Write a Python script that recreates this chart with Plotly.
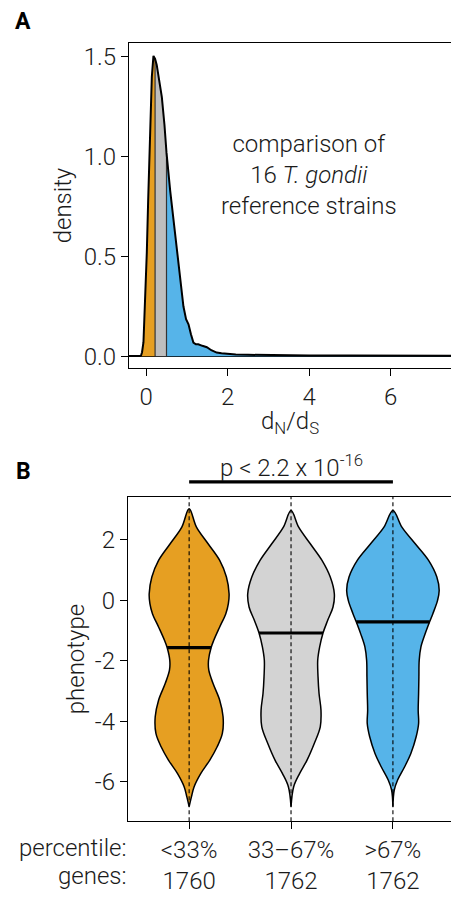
import numpy as np
import plotly.graph_objects as go

# ---------------- Panel A data: density of dN/dS ----------------
dnds_x = [-0.13, -0.10, -0.065, -0.02, 0.017, 0.05, 0.08, 0.11, 0.14, 0.18, 0.22,
          0.26, 0.33, 0.385, 0.45, 0.50, 0.59, 0.67, 0.78, 0.86, 0.915, 0.98, 1.04,
          1.10, 1.16, 1.22, 1.28, 1.38, 1.49, 1.60, 1.73, 1.85, 2.0, 2.2, 2.5, 3.0,
          3.5, 4.0, 5.0, 6.0, 7.0, 7.5]
density_y = [0.0, 0.02, 0.07, 0.28, 0.52, 0.78, 1.02, 1.24, 1.40, 1.505, 1.49,
             1.46, 1.37, 1.30, 1.16, 1.02, 0.83, 0.685, 0.50, 0.35, 0.25, 0.185, 0.16,
             0.11, 0.068, 0.06, 0.06, 0.052, 0.045, 0.03, 0.018, 0.015, 0.012, 0.008, 0.007, 0.005,
             0.004, 0.004, 0.003, 0.003, 0.002, 0.002]
cutoffs = [0.22, 0.50]  # 33rd and 67th percentiles of dN/dS

# ---------------- Panel B data: violins of phenotype ----------------
categories = ["&lt;33%", "33–67%", "&gt;67%"]
gene_counts = ["1760", "1762", "1762"]
medians = [-1.56, -1.08, -0.71]

low_y = [3.03, 2.42, 1.87, 1.32, 0.77, 0.22, -0.11, -0.44, -0.88, -1.32, -1.56, -1.98,
         -2.31, -2.75, -3.30, -3.85, -4.40, -4.84, -5.28, -5.72, -6.16, -6.49, -6.82]
low_w = [0.0, 0.072, 0.186, 0.30, 0.366, 0.392, 0.385, 0.36, 0.30, 0.242, 0.216, 0.19,
         0.193, 0.235, 0.30, 0.333, 0.326, 0.275, 0.203, 0.115, 0.049, 0.023, 0.0]

mid_y = [2.97, 2.42, 1.87, 1.32, 0.77, 0.22, -0.22, -0.66, -1.08, -1.54, -1.98, -2.53,
         -3.08, -3.63, -4.18, -4.73, -5.28, -5.72, -6.16, -6.82]
mid_w = [0.0, 0.075, 0.189, 0.304, 0.385, 0.425, 0.412, 0.36, 0.314, 0.281, 0.262, 0.265,
         0.275, 0.294, 0.287, 0.228, 0.157, 0.085, 0.026, 0.0]

high_y = [2.97, 2.42, 1.87, 1.32, 0.77, 0.33, 0.0, -0.44, -0.71, -1.10, -1.54, -1.98, -2.53,
          -3.08, -3.63, -4.07, -4.51, -5.06, -5.50, -5.94, -6.27, -6.82]
high_w = [0.0, 0.088, 0.219, 0.35, 0.431, 0.454, 0.438, 0.392, 0.36, 0.317, 0.275, 0.258, 0.255,
          0.252, 0.248, 0.252, 0.228, 0.176, 0.115, 0.046, 0.013, 0.0]

y_ticks_b = [-6, -4, -2, 0, 2]
y_ticktext_b = ["-6", "-4", "-2", "0", "2"]

ORANGE = "#E69F22"
GREY_A = "#BEBEBE"
GREY_B = "#D3D3D3"
BLUE = "#56B4E9"
FONT = "Roboto"
FS = 24
TXT = "#1a1a1a"

fig = go.Figure()

# ---- Panel A ----
xa = np.array(dnds_x)
ya = np.array(density_y)
segs = [(xa <= cutoffs[0], ORANGE),
        ((xa >= cutoffs[0]) & (xa <= cutoffs[1]), GREY_A),
        (xa >= cutoffs[1], BLUE)]
for mask, col in segs:
    fig.add_trace(go.Scatter(x=xa[mask], y=ya[mask], mode="lines", fill="tozeroy",
                             fillcolor=col, line=dict(width=0, color=col),
                             hoverinfo="skip", showlegend=False, xaxis="x", yaxis="y"))
for c in cutoffs:
    d = ya[list(xa).index(c)]
    fig.add_trace(go.Scatter(x=[c, c], y=[0, d], mode="lines",
                             line=dict(color="#333333", width=1.2),
                             showlegend=False, hoverinfo="skip", xaxis="x", yaxis="y"))
fig.add_trace(go.Scatter(x=xa, y=ya, mode="lines", line=dict(color="black", width=2),
                         showlegend=False, xaxis="x", yaxis="y"))

# ---- Panel B ----
profiles = [(low_y, low_w, ORANGE), (mid_y, mid_w, GREY_B), (high_y, high_w, BLUE)]
positions = [1, 2, 3]
for pos, (vy, vw, col) in zip(positions, profiles):
    vy = np.array(vy)
    vw = np.array(vw)
    xs = np.concatenate([pos + vw, (pos - vw)[::-1]])
    ys = np.concatenate([vy, vy[::-1]])
    fig.add_trace(go.Scatter(x=xs, y=ys, mode="lines", fill="toself", fillcolor=col,
                             line=dict(color="black", width=1.5, shape="spline", smoothing=1.0),
                             showlegend=False, hoverinfo="skip", xaxis="x2", yaxis="y2"))

for pos in positions:
    fig.add_shape(type="line", xref="x2", yref="y2 domain", x0=pos, x1=pos, y0=0, y1=1,
                  line=dict(color="black", width=1.1, dash="4px,3px"), layer="above")

for pos, (vy, vw, col), m in zip(positions, profiles, medians):
    hw = np.interp(m, np.array(vy)[::-1], np.array(vw)[::-1])
    fig.add_trace(go.Scatter(x=[pos - hw, pos + hw], y=[m, m], mode="lines",
                             line=dict(color="black", width=3.2),
                             showlegend=False, hoverinfo="skip", xaxis="x2", yaxis="y2"))

W, H = 451, 897

# significance bar
fig.add_shape(type="line", xref="x2", yref="paper", x0=positions[0], x1=positions[-1],
              y0=1 - 483 / H, y1=1 - 483 / H, line=dict(color="black", width=3.2))

axis_common = dict(showline=True, linecolor="black", linewidth=1.3, ticks="outside",
                   ticklen=7, tickwidth=1.3, tickcolor="black", showgrid=False,
                   zeroline=False, tickfont=dict(size=FS, color=TXT))

fig.update_layout(
    width=W, height=H, margin=dict(l=0, r=0, t=0, b=0),
    paper_bgcolor="white", plot_bgcolor="white",
    font=dict(family=FONT, size=FS, color=TXT, weight=300),
    xaxis=dict(domain=[129 / W, 1.0], range=[-0.42, 7.48], anchor="y",
               tickvals=[0, 2, 4, 6], mirror=True, **axis_common),
    yaxis=dict(domain=[1 - 369 / H, 1 - 43 / H], range=[-0.06, 1.57], anchor="x",
               tickvals=[0, 0.5, 1.0, 1.5], tickformat=".1f",
               title=dict(text="density", standoff=5, font=dict(size=FS)),
               **{**axis_common, "zeroline": True, "zerolinecolor": "black",
                  "zerolinewidth": 1.5}),
    xaxis2=dict(domain=[128 / W, 1.0], range=[0.4, 3.57], anchor="y2",
                tickvals=positions,
                ticktext=[f"{c}<br>{g}" for c, g in zip(categories, gene_counts)],
                mirror=True, **axis_common),
    yaxis2=dict(domain=[1 - 823 / H, 1 - 498 / H], range=[-7.3, 3.42], anchor="x2",
                tickvals=y_ticks_b, ticktext=y_ticktext_b,
                title=dict(text="phenotype", standoff=3, font=dict(size=FS)),
                **axis_common),
)

def note(text, x, y, xref="paper", yref="paper", xanchor="center", size=FS,
         color=TXT, weight=300, align="center"):
    fig.add_annotation(x=x, y=y, xref=xref, yref=yref, text=text, showarrow=False,
                       xanchor=xanchor, yanchor="middle", align=align,
                       font=dict(size=size, color=color, weight=weight))

note("comparison of<br>16 <i>T. gondii</i><br>reference strains", 4, 0.91,
     xref="x", yref="y")
note("d<sub>N</sub>/d<sub>S</sub>", 0.5 * (129 + W) / W, 1 - 423 / H)
note("<b>A</b>", 23 / W, 1 - 22 / H, size=23, color="black", weight=700)
note("<b>B</b>", 23 / W, 1 - 473 / H, size=23, color="black", weight=700)
note("p &lt; 2.2 x 10<sup>-16</sup>", 2, 1 - 467 / H, xref="x2")
note("percentile:", 129 / W, 1 - 850 / H, xanchor="right")
note("genes:", 129 / W, 1 - 878 / H, xanchor="right")

fig.write_html("out.html", config={"displayModeBar": False},
               post_script="document.body.style.margin='0';document.body.style.overflow='hidden';")
